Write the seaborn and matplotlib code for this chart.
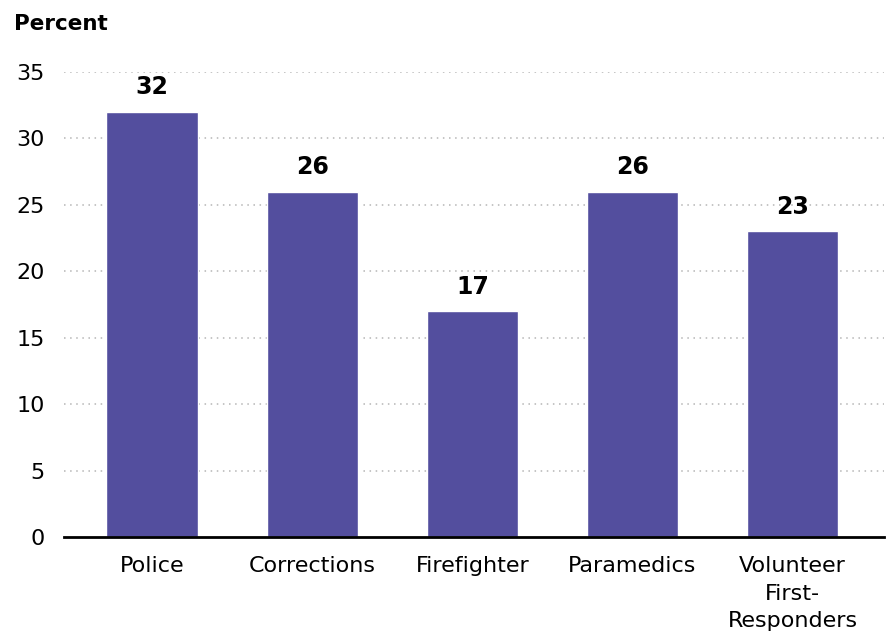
import matplotlib
matplotlib.use("Agg")
import matplotlib.pyplot as plt
import seaborn as sns
import pandas as pd

categories = ["Police", "Corrections", "Firefighter", "Paramedics", "Volunteer\nFirst-\nResponders"]
values = [32, 26, 17, 26, 23]
yticks = [0, 5, 10, 15, 20, 25, 30, 35]

sns.set_style("white")
plt.rcParams['font.family'] = ['DejaVu Sans']
plt.rcParams['text.color'] = 'black'
plt.rcParams['xtick.color'] = 'black'
plt.rcParams['ytick.color'] = 'black'

W, H = 889, 631
fig = plt.figure(figsize=(W/100, H/100), dpi=100)
ax = fig.add_axes([64/W, 94/H, (884-64)/W, (537-72)/H])

df = pd.DataFrame({"cat": categories, "val": values})
sns.barplot(data=df, x="cat", y="val", color="#534E9E", saturation=1, width=0.57, ax=ax, zorder=3)

ax.set_ylim(0, 35)
ax.set_xlim(-0.55, 4.57)
ax.set_yticks(yticks)
ax.set_yticklabels([str(t) for t in yticks], fontsize=16)
ax.set_xticks(range(len(categories)))
ax.set_xticklabels(categories, fontsize=16, linespacing=1.45)
ax.tick_params(axis='x', length=0, pad=14, labelcolor='black')
ax.tick_params(axis='y', length=0, pad=14, labelcolor='black')
ax.set_xlabel("")
ax.set_ylabel("")
for t in yticks[1:]:
    ax.axhline(t, color="#b5b5b5", linestyle=(0, (1, 3)), linewidth=1.1, zorder=1)
for s in ["top", "right", "left"]:
    ax.spines[s].set_visible(False)
ax.spines["bottom"].set_linewidth(2)
ax.spines["bottom"].set_color("black")
ax.spines["bottom"].set_zorder(5)

for i, v in enumerate(values):
    ax.text(i, v + 0.95, str(v), ha="center", va="bottom", fontsize=17, fontweight="bold", color="black")

fig.text(14/W, 1 - 24/H, "Percent", fontsize=15.5, fontweight="bold", va="center", ha="left", color="black")

fig.savefig("out.png", dpi=100)
